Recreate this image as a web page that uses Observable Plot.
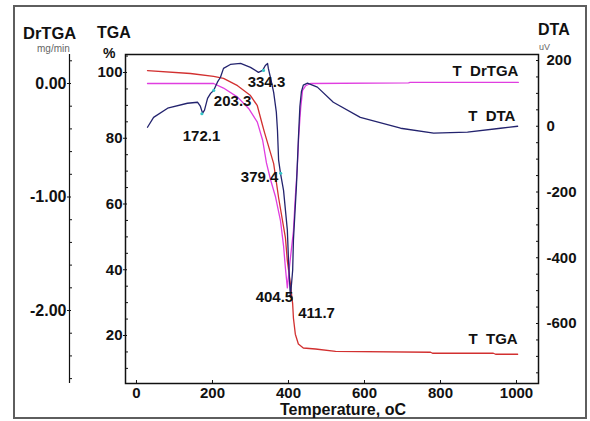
<!DOCTYPE html>
<html><head><meta charset="utf-8">
<script src="https://cdn.jsdelivr.net/npm/d3@7"></script>
<script src="https://cdn.jsdelivr.net/npm/@observablehq/plot@0.6"></script>
<style>
body{margin:0;background:#fff;}
#chart{position:relative;width:590px;height:421px;background:#fff;font-family:"Liberation Sans",Arial,sans-serif;color:#111;overflow:hidden;}
#chart svg{position:absolute;left:0;top:0;}
#chart svg text{white-space:pre;}
.border{position:absolute;left:13px;top:5px;width:570px;height:410px;border:2px solid #5e5e5e;}
.lbl{position:absolute;white-space:nowrap;line-height:0.75;}
</style></head><body>
<div id="chart"><div class="border"></div></div>
<script>
// ---- data ----
const tgaT   = [29,142,203,229,266,300,318,332,337,361,374,392,397,405,411,413,418,426,439,471,524,774,779,939,945,1003];
const tgaPct = [100.6,99.7,98.8,98.2,96.0,93.0,89.9,83.8,81.7,72.3,61.9,49.7,42.7,35.7,29.6,25.3,20.4,17.4,16.2,15.9,15.2,14.9,14.6,14.6,14.3,14.3];

const dtaT  = [29,45,82,134,161,168,174,179,187,195,203,213,221,229,247,274,300,321,332,339,345,347,353,361,368,371,374,379,387,397,400,405,411,413,421,426,430,434,439,450,476,518,589,695,782,871,958,1003];
const dtaUV = [-3,27,55,70,73,61,40,49,85,100,109,134,149,176,188,191,179,164,170,185,191,176,146,103,43,-12,-103,-143,-195,-316,-407,-520,-438,-347,-179,-40,60,105,125,131,119,73,27,-6,-21,-18,-6,0];

const drT   = [29,142,203,229,266,295,318,332,342,353,366,379,387,392,397,403,408,413,418,423,427,432,437,445,458,716,720,1005];
const drVal = [0,0,0,-0.04,-0.12,-0.22,-0.34,-0.50,-0.70,-0.85,-1.00,-1.21,-1.43,-1.63,-1.80,-1.60,-1.45,-1.30,-1.00,-0.75,-0.46,-0.22,-0.06,-0.02,0,0.005,0.01,0.01];

const peakLabels = ["172.1","203.3","334.3","379.4","404.5","411.7"];
const peakLabelT = [171,253,342,324,363,474];
const peakLabelDTA = [-31,75,133,-156,-521,-570];
const markerT   = [172.1,203.3,334.3,379.4];
const markerDTA = [38,109,170,-143];

const xTicks = [0,200,400,600,800,1000];
const tgaTicks = [20,40,60,80,100];
const tgaMinor = [10,15,25,30,35,45,50,55,65,70,75,85,90,95,105];
const dtaTicks = [200,0,-200,-400,-600];
const dtaMinor = [150,100,50,-50,-100,-150,-250,-300,-350,-450,-500,-550,-650,-700,-750];
const drTicks = [0,-1,-2];
const drMinor = [0.2,-0.2,-0.4,-0.6,-0.8,-1.2,-1.4,-1.6,-1.8,-2.2,-2.4,-2.6];

// ---- tables ----
const tga = tgaT.map((t,i)=>({T:t,v:tgaPct[i]}));
const dta = dtaT.map((t,i)=>({T:t,v:dtaUV[i]}));
const dr  = drT.map((t,i)=>({T:t,v:drVal[i]}));
const peaks = peakLabels.map((s,i)=>({s,T:peakLabelT[i],v:peakLabelDTA[i]}));
const markers = markerT.map((t,i)=>({T:t,v:markerDTA[i]}));

const FONT = '"Liberation Sans", Arial, sans-serif';
const W=590,H=421;
const RED="#d23030", MAG="#e03ee0", NAVY="#23236e", CYAN="#36c8c8";
const base = {width:W,height:H,marginTop:54,marginBottom:38,marginLeft:125,marginRight:52,
  style:{background:"transparent",overflow:"visible",fontFamily:FONT,fontSize:"15px",fontWeight:"bold",color:"#111"}};
const xDomain=[-28.9,1057.9];

const chart = document.getElementById("chart");

// TGA layer (frame, x axis, left TGA axis)
chart.appendChild(Plot.plot({...base,
  x:{domain:xDomain},
  y:{domain:[5.40,105.48]},
  marks:[
    Plot.frame({stroke:"#111",strokeWidth:1.5}),
    Plot.axisX({ticks:xTicks,tickSize:0,tickPadding:4,label:null,tickFormat:d=>String(d)}),
    Plot.axisX({ticks:xTicks,tickSize:3,dy:-3,fill:"none",label:null}),
    Plot.axisY({ticks:tgaTicks,tickSize:0,tickPadding:3,label:null,tickFormat:d=>String(d)}),
    Plot.axisY({ticks:tgaTicks,tickSize:4,dx:2,fill:"none",label:null}),
    Plot.axisY({ticks:tgaMinor,tickSize:3,dx:3,fill:"none",label:null}),
    Plot.line(tga,{x:"T",y:"v",stroke:RED,strokeWidth:1.3}),
    Plot.text(["T  TGA"],{x:()=>1003,y:()=>18.8,textAnchor:"end",fill:"#111"})
  ]}));

// DrTGA curve layer
chart.appendChild(Plot.plot({...base,
  x:{domain:xDomain,axis:null},
  y:{domain:[-2.643,0.2555],axis:null},
  marks:[
    Plot.line(dr,{x:"T",y:"v",stroke:MAG,strokeWidth:1.3}),
    Plot.text(["T  DrTGA"],{x:()=>1005,y:()=>0.106,textAnchor:"end",fill:"#111"})
  ]}));

// DTA layer (right axis)
chart.appendChild(Plot.plot({...base,
  x:{domain:xDomain,axis:null},
  y:{domain:[-782.5,218.3]},
  marks:[
    Plot.axisY({anchor:"right",ticks:dtaTicks,tickSize:0,tickPadding:8,label:null,tickFormat:d=>String(d)}),
    Plot.axisY({anchor:"right",ticks:dtaTicks,tickSize:3,dx:-3,fill:"none",label:null}),
    Plot.axisY({anchor:"right",ticks:dtaMinor,tickSize:3,dx:-3,fill:"none",label:null}),
    Plot.line(dta,{x:"T",y:"v",stroke:NAVY,strokeWidth:1.3}),
    Plot.dot(markers,{x:"T",y:"v",r:1.6,fill:CYAN,stroke:null}),
    Plot.text(["T  DTA"],{x:()=>997,y:()=>30,textAnchor:"end",fill:"#111"}),
    Plot.text(peaks,{x:"T",y:"v",text:"s",fill:"#111"})
  ]}));

// DrTGA axis layer (far left)
chart.appendChild(Plot.plot({...base,
  marginLeft:69,marginRight:500,
  x:{domain:[0,1],axis:null},
  y:{domain:[-2.643,0.2555]},
  style:{...base.style,fontSize:"16px"},
  marks:[
    Plot.ruleX([0],{stroke:"#111",strokeWidth:1.2}),
    Plot.axisY({ticks:drTicks,tickSize:0,tickPadding:3,label:null,tickFormat:d=>d.toFixed(2)}),
    Plot.axisY({ticks:drTicks,tickSize:4,dx:2,fill:"none",label:null}),
    Plot.axisY({ticks:drMinor,tickSize:3,dx:3,fill:"none",label:null})
  ]}));

// axis titles (line-height 0.75: baseline sits 0.7215em below the box top)
function place(text,x,baseline,size,opts={}){
  const d=document.createElement("div");
  d.className="lbl";
  d.textContent=text;
  d.style.fontSize=size+"px";
  d.style.fontWeight=opts.weight||"bold";
  d.style.color=opts.color||"#111";
  d.style.top=(baseline-0.7215*size)+"px";
  if(opts.center){d.style.left=x+"px";d.style.transform="translateX(-50%)";}
  else d.style.left=x+"px";
  chart.appendChild(d);
}
place("DrTGA",23,39,16.5);
place("mg/min",37,52,10,{weight:"normal",color:"#666"});
place("TGA",97,39,16);
place("%",103,58,14);
place("DTA",538,35.5,16);
place("uV",539,50,9,{weight:"normal",color:"#666"});
place("Temperature, oC",343,416,16,{center:true});
</script>
</body></html>
